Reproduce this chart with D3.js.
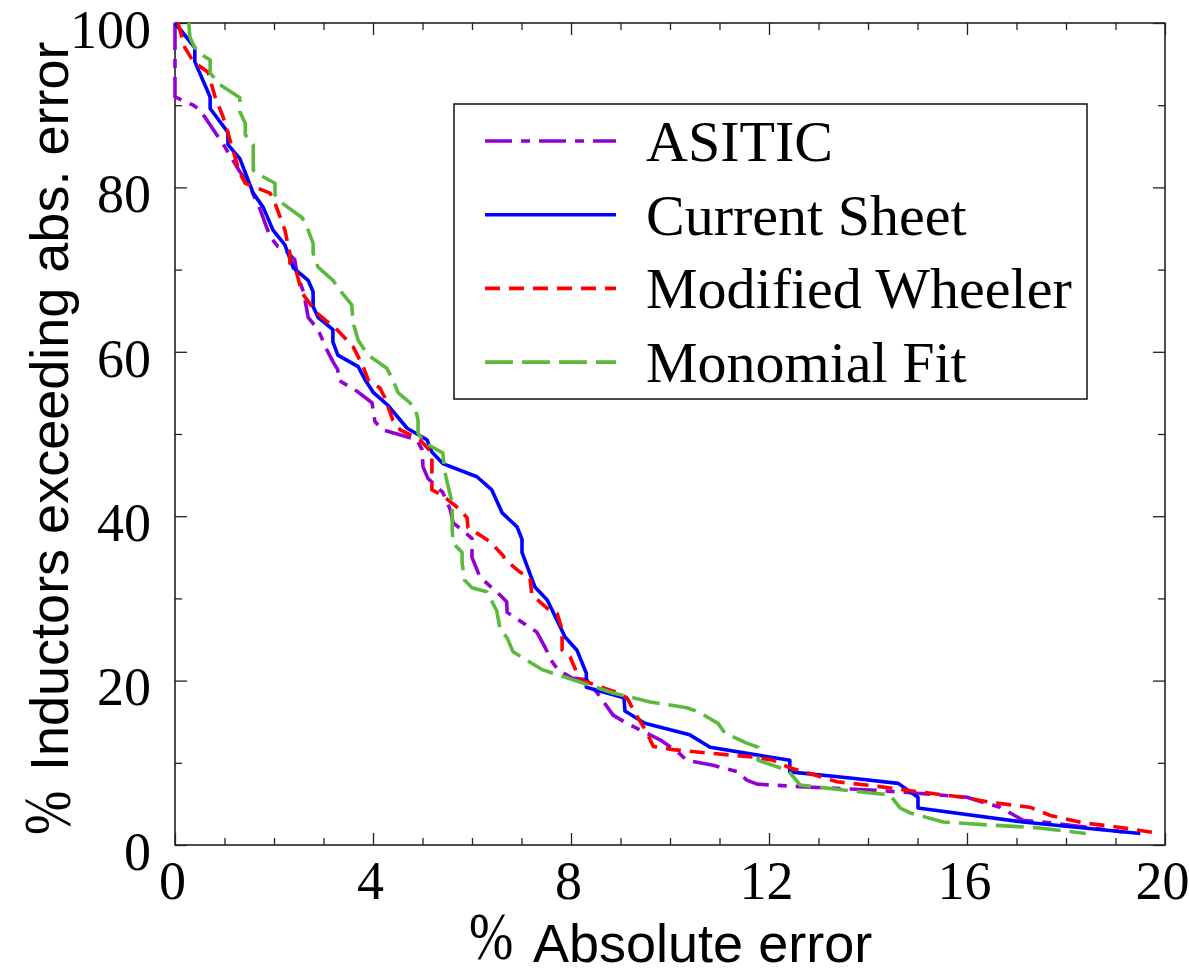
<!DOCTYPE html>
<html>
<head>
<meta charset="utf-8">
<script src="https://cdn.jsdelivr.net/npm/d3@7"></script>
<style>
    body { margin: 0; background: #fff; }
    .tick text { font-family: 'Liberation Serif', 'Times New Roman', serif; font-size: 54px; fill: #000; }
    .tick line { stroke: #222; stroke-width: 1.3; }
    .sans { font-family: 'Liberation Sans', Arial, sans-serif; }
    .serif { font-family: 'Liberation Serif', 'Times New Roman', serif; }
</style>
</head>
<body>
<svg id="svg"></svg>
<script>
//data: [abs. error %, % inductors exceeding]
const asitic = [
    [0,100],[0,91],[0.37,90],[0.51,89.4],[0.91,85.8],[1.01,84.9],[1.31,81.9],[1.48,80.5],[1.72,77.3],
    [1.92,74],[2.08,72.8],[2.22,72.4],[2.42,71.2],[2.46,69.6],[2.6,67.2],[2.69,64.2],[2.89,62.7],
    [3.07,60.2],[3.19,58.8],[3.29,57.8],[3.29,56.6],[3.54,55.7],[3.7,55.1],[3.98,53.8],[4.04,51.5],
    [4.2,50.5],[4.89,49.3],[4.99,48.1],[5.01,46],[5.11,44.6],[5.41,42.9],[5.56,40.8],[5.62,39.2],
    [6.0,37.3],[6.0,35],[6.16,32.6],[6.55,30.5],[6.7,29.6],[6.71,28.3],[7.31,25.9],[7.47,24.1],
    [7.62,22.3],[7.74,21.3],[8.02,20.3],[8.32,20.1],[8.53,18.5],[8.85,15.8],[9.13,14.8],[9.53,13.6],
    [9.8,12.8],[10.16,11.3],[10.34,10.3],[10.87,9.7],[11.37,8.9],[11.55,7.9],[11.76,7.4],[12.63,7.1],
    [14.04,6.7],[14.99,6.3],[16.0,5.8],[16.32,5.2],[16.67,4.6],[17.13,3.0],[17.68,2.7],[19.15,1.6]
]
const currentSheet = [
    [0,100],[0.4,97],[0.4,95.3],[0.71,91],[0.71,89.6],[1.07,86.7],[1.07,85.2],[1.31,83.5],[1.58,79.3],
    [1.78,77.6],[1.98,74.8],[2.22,73],[2.39,70.2],[2.69,68.7],[2.79,67.3],[2.79,65.5],[2.89,64.2],
    [3.19,62.7],[3.19,61.2],[3.29,59.6],[3.7,58.2],[3.84,56.6],[4.0,55.1],[4.3,53.5],[4.69,50.7],
    [5.09,49.3],[5.19,47.8],[5.41,46.4],[6.1,44.8],[6.4,43.2],[6.61,40.4],[6.91,38.7],[7.01,37.2],
    [7.01,35.6],[7.27,31.4],[7.52,29.8],[7.88,25.3],[8.12,23.7],[8.31,20.9],[8.31,19.2],[9.07,17.9],
    [9.09,16.3],[9.49,14.8],[10.4,13.4],[10.81,11.9],[12.42,10.3],[12.42,8.9],[13.64,8.15],[14.61,7.5],
    [15.01,5.8],[15.01,4.5],[17.13,2.8],[19.5,1.4]
]
const modWheeler = [
    [0.06,100],[0.2,97],[0.37,95.3],[0.67,94],[0.81,91],[0.97,88.6],[1.07,86.6],[1.31,81.7],[1.42,80.5],
    [1.92,79.3],[2.02,78.1],[2.22,74.8],[2.32,72],[2.32,70.8],[2.46,69.6],[2.56,67.2],[2.87,64.7],
    [3.27,62.7],[3.6,60.6],[3.8,58.2],[3.9,56.6],[4.14,55.6],[4.24,54.4],[4.4,51.7],[4.55,50.5],
    [4.95,49.3],[5.19,47.7],[5.19,43.2],[5.39,42.6],[5.76,40.8],[5.9,39.8],[5.92,38.6],[6.16,37.7],
    [6.36,36.9],[6.63,35.2],[6.67,34.7],[6.97,33.2],[7.17,32.6],[7.21,30.4],[7.52,28.8],[7.72,28.2],
    [7.82,26.2],[7.82,23.7],[7.98,22.9],[8.18,20.1],[8.38,19.7],[8.95,18.5],[9.13,17.9],[9.29,16.1],
    [9.53,13.7],[9.66,12.0],[10.06,11.6],[10.75,11.2],[11.68,10.7],[12.08,10.3],[12.42,9.4],[12.77,8.8],
    [13.37,7.7],[14.24,7.1],[14.99,6.5],[15.92,5.8],[16.46,5.2],[17.27,4.6],[17.68,3.6],[18.34,2.7],
    [19.03,2.2],[19.9,1.4]
]
const monomialFit = [
    [0.28,100],[0.3,98.3],[0.4,97],[0.55,96.1],[0.71,95.5],[0.71,93.9],[0.91,92.5],[1.31,90.9],[1.31,89.2],
    [1.42,87.8],[1.42,86.4],[1.58,85.2],[1.58,82.1],[1.78,81.3],[2.02,80.5],[2.02,79.1],[2.16,78.1],
    [2.57,76.3],[2.69,74.8],[2.79,73.2],[2.79,72],[2.89,70.3],[3.19,68.7],[3.33,67.5],[3.57,65.7],
    [3.6,63.5],[3.7,61.4],[3.9,59.6],[4.28,58],[4.4,56.6],[4.51,55],[4.69,54.1],[4.85,53.2],[4.91,51.7],
    [4.91,50.1],[5.05,48.9],[5.41,47.7],[5.45,45.4],[5.52,43.6],[5.6,41.6],[5.6,38.3],[5.62,36.7],
    [5.8,35.6],[5.8,34.3],[5.85,32.2],[6.0,31.3],[6.3,30.8],[6.5,28.5],[6.57,26.2],[6.71,25.2],
    [6.83,23.5],[7.43,21.3],[8.24,19.7],[8.85,18.5],[9.6,17.4],[10.34,16.7],[10.57,16.2],[10.97,14.8],
    [11.11,13.6],[11.55,12.4],[11.78,11.9],[11.78,10.3],[12.22,9.4],[12.42,8.8],[12.63,7.3],[12.89,7.1],
    [14.1,6.3],[14.44,6.1],[14.65,4.5],[14.85,3.9],[15.52,2.8],[16.53,2.4],[17.41,2.1],[18.4,1.4]
]
const seriesNames = ['ASITIC', 'Current Sheet', 'Modified Wheeler', 'Monomial Fit']
const seriesData = [asitic, currentSheet, modWheeler, monomialFit]
const xMajor = [0, 4, 8, 12, 16, 20]
const xMinor = [1, 2, 3, 5, 6, 7, 9, 10, 11, 13, 14, 15, 17, 18, 19]
const yMajor = [0, 20, 40, 60, 80, 100]
const yMinor = [10, 30, 50, 70, 90]

//styles (kept apart from the data)
const colors = ['#9400d3', '#0000ff', '#ff0000', '#5bb93c']
const dashes = ['27,9,9,9', null, '15,9', '28,9']

let svg = d3.select('#svg')
    .attr('width', 1189)
    .attr('height', 974)

//scales
let x = d3.scaleLinear().domain([0, 20]).range([175, 1165])
let y = d3.scaleLinear().domain([0, 100]).range([845, 23])

//bottom axis with labels + minor ticks
let xGroup = svg.append('g')
    .attr('transform', `translate(0,${y(0)})`)
    .call(d3.axisBottom(x).tickValues(xMajor).tickSize(-12).tickPadding(16).tickFormat(d3.format('d')))
xGroup.selectAll('.tick text').attr('dx', -3)
svg.append('g')
    .attr('transform', `translate(0,${y(0)})`)
    .call(d3.axisBottom(x).tickValues(xMinor).tickSize(-7).tickFormat(''))

//top axis, ticks only
svg.append('g')
    .attr('transform', `translate(0,${y(100)})`)
    .call(d3.axisTop(x).tickValues(xMajor).tickSize(-12).tickFormat(''))
svg.append('g')
    .attr('transform', `translate(0,${y(100)})`)
    .call(d3.axisTop(x).tickValues(xMinor).tickSize(-7).tickFormat(''))

//left axis with labels
let yGroup = svg.append('g')
    .attr('transform', `translate(${x(0)},0)`)
    .call(d3.axisLeft(y).tickValues(yMajor).tickSize(-12).tickPadding(24).tickFormat(d3.format('d')))
yGroup.selectAll('.tick text').attr('dy', '0.45em')
svg.append('g')
    .attr('transform', `translate(${x(0)},0)`)
    .call(d3.axisLeft(y).tickValues(yMinor).tickSize(-7).tickFormat(''))

//right axis, ticks only
svg.append('g')
    .attr('transform', `translate(${x(20)},0)`)
    .call(d3.axisRight(y).tickValues(yMajor).tickSize(-12).tickFormat(''))
svg.append('g')
    .attr('transform', `translate(${x(20)},0)`)
    .call(d3.axisRight(y).tickValues(yMinor).tickSize(-7).tickFormat(''))

svg.selectAll('.domain').remove()

//frame
svg.append('rect')
    .attr('x', x(0))
    .attr('y', y(100))
    .attr('width', x(20) - x(0))
    .attr('height', y(0) - y(100))
    .attr('fill', 'none')
    .attr('stroke', '#222')
    .attr('stroke-width', 1.6)

//curves
let line = d3.line()
    .x(d => x(d[0]))
    .y(d => y(d[1]))

svg.append('g')
    .selectAll('path')
    .data(seriesData)
    .join('path')
    .attr('d', line)
    .attr('fill', 'none')
    .attr('stroke', (d, i) => colors[i])
    .attr('stroke-width', 3.6)
    .attr('stroke-linejoin', 'round')
    .attr('stroke-dasharray', (d, i) => dashes[i])

//legend
let legend = svg.append('g')
legend.append('rect')
    .attr('x', 454)
    .attr('y', 104)
    .attr('width', 633)
    .attr('height', 295)
    .attr('fill', '#fff')
    .attr('stroke', '#111')
    .attr('stroke-width', 1.5)

let items = legend.selectAll('.item')
    .data(seriesNames)
    .join('g')
    .classed('item', true)
    .attr('transform', (d, i) => `translate(0,${141 + i * 73.7})`)
items.append('line')
    .attr('x1', 485)
    .attr('x2', 616)
    .attr('stroke', (d, i) => colors[i])
    .attr('stroke-width', 3.6)
    .attr('stroke-dasharray', (d, i) => dashes[i])
items.append('text')
    .classed('serif', true)
    .attr('x', 646)
    .attr('y', 20)
    .attr('font-size', 58)
    .text(d => d)

//axis captions: the % sign is a tall serif glyph, the words are sans
svg.append('text')
    .classed('serif', true)
    .attr('transform', 'translate(469,959) scale(0.95,1.2)')
    .attr('font-size', 56)
    .text('%')
svg.append('text')
    .classed('sans', true)
    .attr('x', 533)
    .attr('y', 962)
    .attr('font-size', 54)
    .text('Absolute error')

svg.append('text')
    .classed('serif', true)
    .attr('transform', 'translate(70,835) rotate(-90) scale(0.95,1.2)')
    .attr('font-size', 56)
    .text('%')
svg.append('text')
    .classed('sans', true)
    .attr('transform', 'translate(68,771) rotate(-90)')
    .attr('font-size', 54)
    .text('Inductors exceeding abs. error')
</script>
</body>
</html>
